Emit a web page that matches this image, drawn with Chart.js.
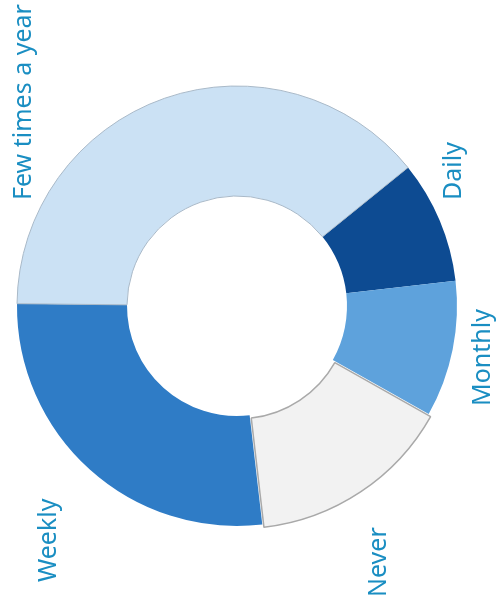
<!DOCTYPE html>
<html lang="en">
<head>
    <meta charset="UTF-8">
    <title>Frequency</title>
    <style>
        body {
            margin: 0;
            background-color: #fff;
        }

        #chart-container {
            width: 498px;
            height: 607px;
        }
    </style>
</head>
<body>
    <div id="chart-container">
        <canvas id="donut"></canvas>
    </div>

    <script src="https://cdn.jsdelivr.net/npm/chart.js"></script>

    <script>
        const categories = ["Daily", "Monthly", "Never", "Weekly", "Few times a year"];
        const shares = [9, 10, 15, 27, 39];

        const sliceColors = ['#0d4b92', '#5ea2dc', '#f2f2f2', '#2f7cc6', '#cbe1f4'];
        const sliceBorders = ['#0d4b92', '#5ea2dc', '#a9a9a9', '#2f7cc6', '#a9b9c8'];
        const sliceBorderWidths = [0, 0, 1.5, 0, 1];
        const sliceOffsets = [0, 0, 11, 0, 0];

        // where each rotated label sits (baseline x, start y)
        const labelSpots = [
            [461, 200],
            [490, 406],
            [386, 597],
            [56, 582],
            [31, 200]
        ];

        const sideLabels = {
            id: 'sideLabels',
            afterDraw(chart) {
                const ctx = chart.ctx;
                ctx.save();
                ctx.font = '25px "Noto Sans", sans-serif';
                ctx.fillStyle = '#1a8ec2';
                ctx.textAlign = 'left';
                ctx.textBaseline = 'alphabetic';
                chart.data.labels.forEach((label, i) => {
                    const [x, y] = labelSpots[i];
                    ctx.save();
                    ctx.translate(x, y);
                    ctx.rotate(-Math.PI / 2);
                    ctx.fillText(label, 0, 0);
                    ctx.restore();
                });
                ctx.restore();
            }
        };

        const ctx = document.getElementById('donut').getContext('2d');
        new Chart(ctx, {
            type: 'doughnut',
            data: {
                labels: categories,
                datasets: [{
                    data: shares,
                    backgroundColor: sliceColors,
                    borderColor: sliceBorders,
                    borderWidth: sliceBorderWidths,
                    offset: sliceOffsets
                }]
            },
            options: {
                responsive: true,
                maintainAspectRatio: false,
                animation: false,
                rotation: 51,
                radius: 220,
                cutout: '50%',
                layout: {
                    padding: { left: 0, right: 24, top: 5, bottom: 0 }
                },
                plugins: {
                    legend: { display: false },
                    tooltip: { enabled: false }
                }
            },
            plugins: [sideLabels]
        });
    </script>
</body>
</html>
